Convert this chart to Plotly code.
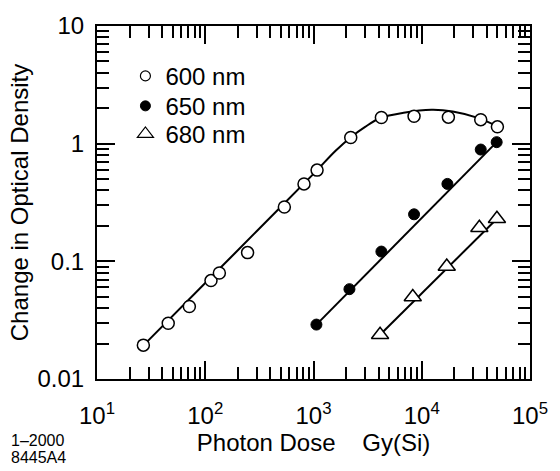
import plotly.graph_objects as go

# ---- data ----
dose_600 = [26.8, 45.5, 71.3, 113, 135, 246, 538, 817, 1079, 2208, 4238, 8490, 17620, 35070, 50000]
od_600 = [0.0194, 0.0298, 0.0413, 0.0686, 0.0796, 0.1186, 0.290, 0.455, 0.596, 1.127, 1.667, 1.71, 1.68, 1.60, 1.39]

fit_dose_600 = [27, 100, 300, 1000, 1600, 2200, 3000, 4200, 6800, 12300, 19300, 33600, 51000]
fit_od_600 = [0.0194, 0.0654, 0.181, 0.554, 0.87, 1.13, 1.39, 1.66, 1.83, 1.94, 1.88, 1.65, 1.39]

dose_650 = [1064, 2148, 4238, 8490, 17260, 35070, 49200]
od_650 = [0.029, 0.058, 0.121, 0.251, 0.455, 0.891, 1.03]
fit_dose_650 = [1064, 49200]
fit_od_650 = [0.029, 1.03]

dose_680 = [4120, 8260, 17020, 34050, 49500]
od_680 = [0.0238, 0.0497, 0.0904, 0.193, 0.230]
fit_dose_680 = [4120, 49500]
fit_od_680 = [0.0238, 0.230]

x_ticks = [10, 100, 1000, 10000, 100000]
x_ticktext = ["10<sup>1</sup>", "10<sup>2</sup>", "10<sup>3</sup>", "10<sup>4</sup>", "10<sup>5</sup>"]
y_ticks = [0.01, 0.1, 1, 10]
y_ticktext = ["0.01", "0.1", "1", "10"]

legend_names = ["600 nm", "650 nm", "680 nm"]

FONT = "Liberation Sans, Arial, sans-serif"

x_minor = [m * 10 ** e for e in range(1, 5) for m in range(2, 10)]
y_minor = [m * 10 ** e for e in range(-2, 1) for m in range(2, 10)]

fig = go.Figure()

line_style = dict(color="black", width=2)

fig.add_trace(go.Scatter(x=fit_dose_600, y=fit_od_600, mode="lines",
                         line=dict(color="black", width=2, shape="spline", smoothing=1.0),
                         showlegend=False, hoverinfo="skip"))
fig.add_trace(go.Scatter(x=fit_dose_650, y=fit_od_650, mode="lines", line=line_style,
                         showlegend=False, hoverinfo="skip"))
fig.add_trace(go.Scatter(x=fit_dose_680, y=fit_od_680, mode="lines", line=line_style,
                         showlegend=False, hoverinfo="skip"))

fig.add_trace(go.Scatter(x=dose_600, y=od_600, mode="markers",
                         marker=dict(symbol="circle", size=12, color="white",
                                     line=dict(color="black", width=1.5)),
                         showlegend=False))
fig.add_trace(go.Scatter(x=dose_650, y=od_650, mode="markers",
                         marker=dict(symbol="circle", size=11, color="black",
                                     line=dict(color="black", width=1)),
                         showlegend=False))
fig.add_trace(go.Scatter(x=dose_680, y=od_680, mode="markers",
                         marker=dict(symbol="triangle-up", size=15, color="white",
                                     line=dict(color="black", width=1.5)),
                         showlegend=False))

# legend-only entries, one legend per row so the row spacing can match
fig.add_trace(go.Scatter(x=[None], y=[None], mode="markers", name=legend_names[0],
                         legend="legend",
                         marker=dict(symbol="circle", size=10, color="white",
                                     line=dict(color="black", width=1.2))))
fig.add_trace(go.Scatter(x=[None], y=[None], mode="markers", name=legend_names[1],
                         legend="legend2",
                         marker=dict(symbol="circle", size=10, color="black",
                                     line=dict(color="black", width=1))))
fig.add_trace(go.Scatter(x=[None], y=[None], mode="markers", name=legend_names[2],
                         legend="legend3",
                         marker=dict(symbol="triangle-up", size=14, color="white",
                                     line=dict(color="black", width=1.2))))

axis_common = dict(
    type="log", showgrid=False, zeroline=False,
    showline=True, linecolor="black", linewidth=2, mirror="ticks",
    ticks="inside", ticklen=18, tickwidth=2, tickcolor="black",
    tickfont=dict(family=FONT, size=24, color="black"),
)

fig.update_xaxes(**axis_common, range=[1, 5], tickmode="array",
                 tickvals=x_ticks, ticktext=x_ticktext,
                 minor=dict(ticks="inside", ticklen=12, tickwidth=1.5, tickcolor="black",
                            tickmode="array", tickvals=x_minor, showgrid=False),
                 title=dict(text="Photon Dose\u00a0\u00a0\u00a0\u00a0Gy(Si)",
                            font=dict(family=FONT, size=24, color="black"), standoff=4),
                 ticklabelstandoff=14)
fig.update_yaxes(**axis_common, range=[-2, 1], tickmode="array",
                 tickvals=y_ticks, ticktext=y_ticktext,
                 minor=dict(ticks="inside", ticklen=12, tickwidth=1.5, tickcolor="black",
                            tickmode="array", tickvals=y_minor, showgrid=False),
                 title=dict(text="Change in Optical Density",
                            font=dict(family=FONT, size=24, color="black"), standoff=2),
                 ticklabelstandoff=6)

leg_common = dict(xanchor="left", yanchor="middle", bgcolor="rgba(0,0,0,0)", borderwidth=0,
                  font=dict(family=FONT, size=24, color="black"), itemsizing="trace")
legend_x = (126 - 97) / 442
row_y = [(379 - 66) / 365, (379 - 97) / 365, (379 - 126) / 365]

fig.update_layout(
    width=560, height=471, autosize=False,
    margin=dict(l=97, r=21, t=14, b=92),
    paper_bgcolor="white", plot_bgcolor="white",
    font=dict(family=FONT, size=24, color="black"),
    showlegend=True,
    legend=dict(x=legend_x, y=row_y[0], **leg_common),
    legend2=dict(x=legend_x, y=row_y[1], **leg_common),
    legend3=dict(x=legend_x, y=row_y[2], **leg_common),
    annotations=[
        dict(text="1\u20132000", xref="paper", yref="paper",
             x=(7 - 97) / 442, y=(379 - 443) / 365, xanchor="left", yanchor="middle",
             showarrow=False, font=dict(family=FONT, size=16, color="black")),
        dict(text="8445A4", xref="paper", yref="paper",
             x=(7 - 97) / 442, y=(379 - 460) / 365, xanchor="left", yanchor="middle",
             showarrow=False, font=dict(family=FONT, size=16, color="black")),
    ],
)

fig.write_html("out.html", config={"displayModeBar": False},
               post_script="document.body.style.margin='0';")
